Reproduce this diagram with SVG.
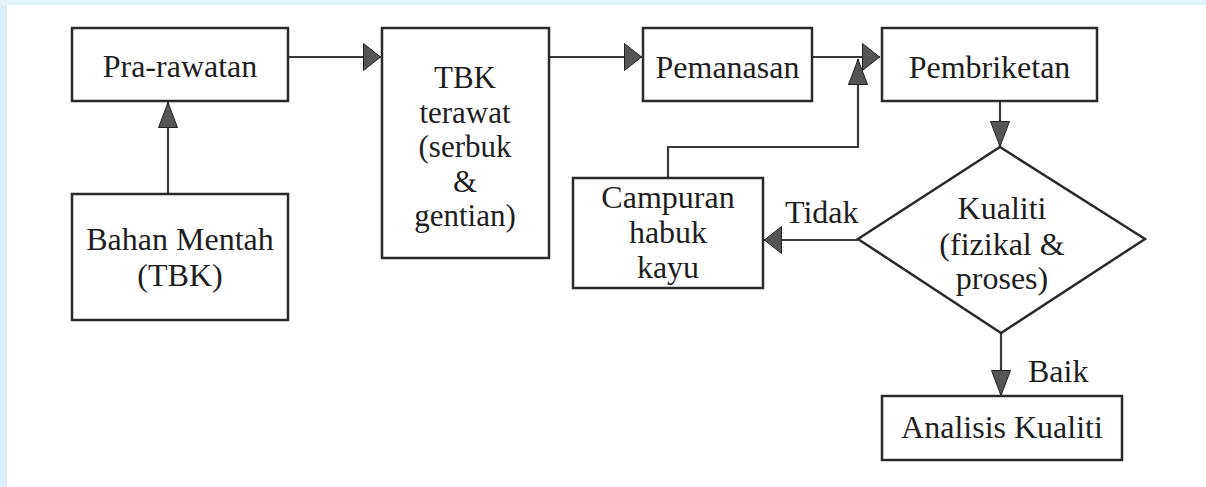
<svg xmlns="http://www.w3.org/2000/svg" width="1206" height="487" viewBox="0 0 1206 487">
  <defs>
    <style>
      .box { fill: #ffffff; stroke: #2a2a2a; stroke-width: 2.5; }
      .conn { fill: none; stroke: #3a3a3a; stroke-width: 2.2; }
      .lbl { font-family: "Liberation Serif", "Times New Roman", serif; font-size: 32px; fill: #1e1e1e; }
      .mid { text-anchor: middle; }
      .tight { font-size: 31px; }
    </style>
    <marker id="ah" markerUnits="userSpaceOnUse" viewBox="0 0 18 28" refX="18" refY="14" markerWidth="18" markerHeight="28" orient="auto">
      <path d="M0.5,0.5 L17.5,14 L0.5,27.5 Z" fill="#555555" stroke="#222222" stroke-width="1"/>
    </marker>
    <marker id="av" markerUnits="userSpaceOnUse" viewBox="0 0 26 20" refX="26" refY="10" markerWidth="26" markerHeight="20" orient="auto">
      <path d="M0.5,0.5 L25.5,10 L0.5,19.5 Z" fill="#555555" stroke="#222222" stroke-width="1"/>
    </marker>
  </defs>

  <rect x="0" y="0" width="1206" height="487" fill="#ffffff"/>
  <rect x="0" y="0" width="7" height="487" fill="#d9eefa"/>
  <rect x="0" y="0" width="1206" height="5" fill="#e3f3fb"/>

  <g id="connectors">
    <line class="conn" x1="168" y1="194" x2="168" y2="102" marker-end="url(#av)"/>
    <line class="conn" x1="288" y1="57" x2="381" y2="57" marker-end="url(#ah)"/>
    <line class="conn" x1="549" y1="57" x2="642" y2="57" marker-end="url(#ah)"/>
    <line class="conn" x1="812" y1="57" x2="880" y2="57" marker-end="url(#ah)"/>
    <polyline class="conn" points="668,178 668,147 858,147 858,59" marker-end="url(#av)"/>
    <line class="conn" x1="1000" y1="101" x2="1000" y2="147" marker-end="url(#av)"/>
    <line class="conn" x1="858" y1="240" x2="764" y2="240" marker-end="url(#ah)"/>
    <line class="conn" x1="1001" y1="333" x2="1001" y2="396" marker-end="url(#av)"/>
    <text class="lbl" x="785" y="223">Tidak</text>
    <text class="lbl" x="1028" y="382">Baik</text>
  </g>

  <g id="pra-rawatan">
    <rect class="box" x="72" y="28" width="216" height="73"/>
    <text class="lbl mid" x="180" y="77">Pra-rawatan</text>
  </g>

  <g id="bahan-mentah">
    <rect class="box" x="72" y="194" width="216" height="126"/>
    <text class="lbl mid" x="180" y="250">Bahan Mentah</text>
    <text class="lbl mid" x="180" y="286">(TBK)</text>
  </g>

  <g id="tbk-terawat">
    <rect class="box" x="382" y="28" width="167" height="230"/>
    <text class="lbl mid tight" x="465" y="88">TBK</text>
    <text class="lbl mid tight" x="465" y="122.5">terawat</text>
    <text class="lbl mid tight" x="465" y="157">(serbuk</text>
    <text class="lbl mid tight" x="465" y="191.5">&amp;</text>
    <text class="lbl mid tight" x="465" y="226">gentian)</text>
  </g>

  <g id="pemanasan">
    <rect class="box" x="643" y="28" width="169" height="73"/>
    <text class="lbl mid" x="727.5" y="78">Pemanasan</text>
  </g>

  <g id="pembriketan">
    <rect class="box" x="882" y="28" width="215" height="73"/>
    <text class="lbl mid" x="989.5" y="78">Pembriketan</text>
  </g>

  <g id="campuran">
    <rect class="box" x="573" y="178" width="190" height="110"/>
    <text class="lbl mid" x="668" y="208">Campuran</text>
    <text class="lbl mid" x="668" y="243">habuk</text>
    <text class="lbl mid" x="668" y="278">kayu</text>
  </g>

  <g id="kualiti">
    <polygon class="box" points="1000,147 1145,239 1001,333 858,239"/>
    <text class="lbl mid" x="1002" y="219">Kualiti</text>
    <text class="lbl mid" x="1002" y="255">(fizikal &amp;</text>
    <text class="lbl mid" x="1002" y="289">proses)</text>
  </g>

  <g id="analisis-kualiti">
    <rect class="box" x="882" y="396" width="240" height="64"/>
    <text class="lbl mid" x="1002" y="438">Analisis Kualiti</text>
  </g>
</svg>
